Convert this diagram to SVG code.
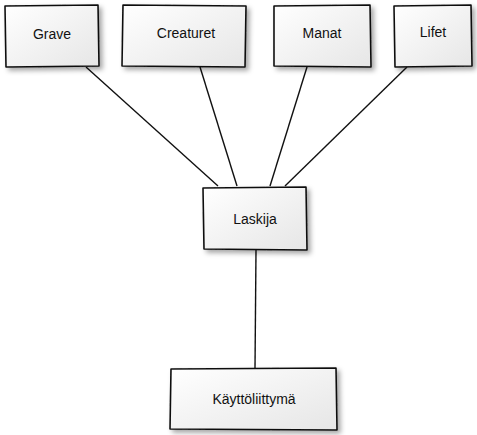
<svg xmlns="http://www.w3.org/2000/svg" width="477" height="435" viewBox="0 0 477 435">
<defs>
<linearGradient id="g" x1="0" y1="0" x2="1" y2="1">
<stop offset="0" stop-color="#ffffff"/>
<stop offset="1" stop-color="#e6e6e6"/>
</linearGradient>
<filter id="sh" x="-20%" y="-20%" width="150%" height="150%">
<feDropShadow dx="3" dy="3" stdDeviation="2.5" flood-color="#000" flood-opacity="0.35"/>
</filter>
</defs>
<style>
.box{fill:url(#g);stroke:#111;stroke-width:1.6;stroke-linejoin:round;filter:url(#sh)}
.lbl{font-family:"Comic Sans MS","Liberation Sans",sans-serif;font-size:14px;fill:#111;text-anchor:middle;dominant-baseline:central}
.edge{stroke:#111;stroke-width:1.4;fill:none}
</style>
<g id="connectors">
<path class="edge" d="M86,67 L218,186"/>
<path class="edge" d="M200,67 L237,186"/>
<path class="edge" d="M307,67 L270,186"/>
<path class="edge" d="M407,67 L285,186"/>
<path class="edge" d="M256,250 L255,368"/>
</g>
<g id="Grave">
<path class="box" d="M5,6 L98,5 L99,66 L6,67 Z"/>
<text class="lbl" x="52" y="34">Grave</text>
</g>
<g id="Creaturet">
<path class="box" d="M123,5 L246,6 L245,67 L122,66 Z"/>
<text class="lbl" x="186" y="33">Creaturet</text>
</g>
<g id="Manat">
<path class="box" d="M274,6 L370,5 L371,67 L274,66 Z"/>
<text class="lbl" x="322" y="33">Manat</text>
</g>
<g id="Lifet">
<path class="box" d="M394,6 L471,5 L472,66 L395,67 Z"/>
<text class="lbl" x="433" y="32">Lifet</text>
</g>
<g id="Laskija">
<path class="box" d="M203,188 L306,187 L307,250 L204,249 Z"/>
<text class="lbl" x="255" y="219">Laskija</text>
</g>
<g id="Kayttoliittyma">
<path class="box" d="M171,369 L336,368 L337,430 L170,429 Z"/>
<text class="lbl" x="254" y="399">Käyttöliittymä</text>
</g>
</svg>
